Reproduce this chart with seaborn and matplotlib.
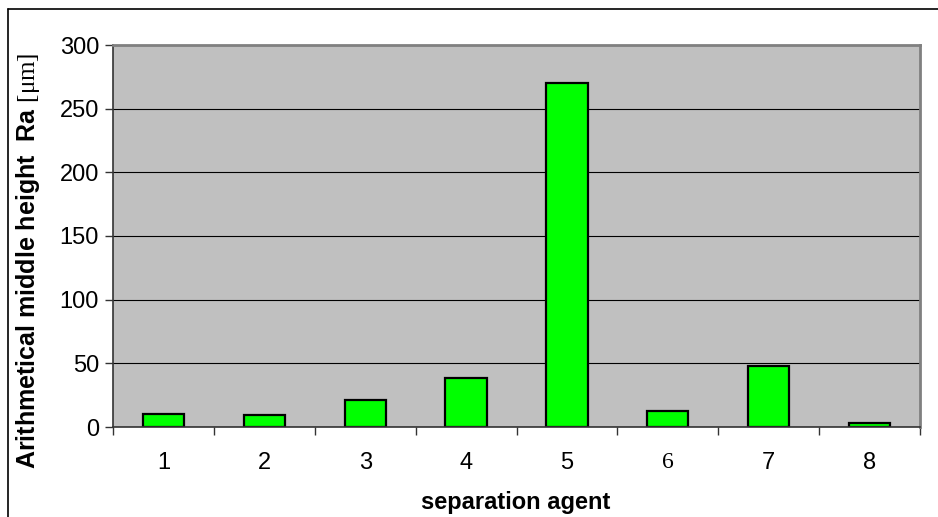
import matplotlib
matplotlib.use('Agg')
import pandas as pd
import seaborn as sns
from matplotlib import pyplot as plt
from matplotlib.lines import Line2D
from matplotlib.ticker import FixedLocator, MultipleLocator

# values
agents = ['1', '2', '3', '4', '5', '6', '7', '8']
ra_values = [10.2, 9.7, 21.4, 38.2, 270.5, 12.3, 48.1, 3.4]

df = pd.DataFrame({'agent': agents, 'Ra': ra_values})

sns.set_style('white')
plt.rcParams['font.family'] = ['Liberation Sans', 'DejaVu Sans']
plt.rcParams['text.color'] = 'black'
plt.rcParams['xtick.color'] = 'black'
plt.rcParams['ytick.color'] = 'black'
plt.rcParams['mathtext.fontset'] = 'custom'
plt.rcParams['mathtext.rm'] = 'Liberation Serif'
plt.rcParams['mathtext.it'] = 'Liberation Serif'

fig = plt.figure(figsize=(9.38, 5.17), dpi=100)
ax = fig.add_axes([113 / 938, 1 - 427 / 517, 807 / 938, 382 / 517])
ax.set_facecolor('#C0C0C0')

sns.barplot(data=df, x='agent', y='Ra', ax=ax, color='#00FF00',
            saturation=1, width=0.41, edgecolor='black', linewidth=1.6)

ax.set_ylim(0, 300)
ax.set_xlim(-0.5, 7.5)
ax.yaxis.set_major_locator(MultipleLocator(50))
ax.grid(axis='y', color='black', linewidth=0.8)
ax.set_axisbelow(True)

# category boundaries get the tick marks, labels sit in the middle
ax.xaxis.set_minor_locator(FixedLocator([i - 0.5 for i in range(9)]))
ax.tick_params(axis='x', which='major', length=0, pad=18, labelsize=17)
ax.tick_params(axis='x', which='minor', length=5.5, width=1, color='#333333',
               direction='out', bottom=True)
ax.tick_params(axis='y', length=5.5, width=1, color='#333333', direction='out',
               left=True, pad=4.5, labelsize=17, labelcolor='black')
ax.tick_params(axis='x', labelcolor='black')
for lbl in ax.get_xticklabels():
    if lbl.get_text() == '6':
        lbl.set_fontfamily('Liberation Serif')

for side in ['left', 'bottom']:
    ax.spines[side].set_color('#333333')
    ax.spines[side].set_linewidth(1.2)
for side in ['top', 'right']:
    ax.spines[side].set_color('#808080')
    ax.spines[side].set_linewidth(2)

ax.set_xlabel('')
ax.set_ylabel('')
fig.text(516 / 938, 1 - 503 / 517, 'separation agent', ha='center', va='center',
         fontsize=17, fontweight='bold')
fig.text(28 / 938, 1 - 261 / 517, r'Arithmetical middle height  Ra $\mathrm{[\mu m]}$',
         rotation=90, ha='center', va='center', fontsize=18, fontweight='bold')

# outer frame (left and top edges are visible in the reference)
fig.add_artist(Line2D([8 / 938, 8 / 938], [0, 1 - 9 / 517], color='black', lw=1.2,
                      transform=fig.transFigure))
fig.add_artist(Line2D([8 / 938, 1], [1 - 9 / 517, 1 - 9 / 517], color='black', lw=1.2,
                      transform=fig.transFigure))

fig.savefig('out.png', dpi=100)
